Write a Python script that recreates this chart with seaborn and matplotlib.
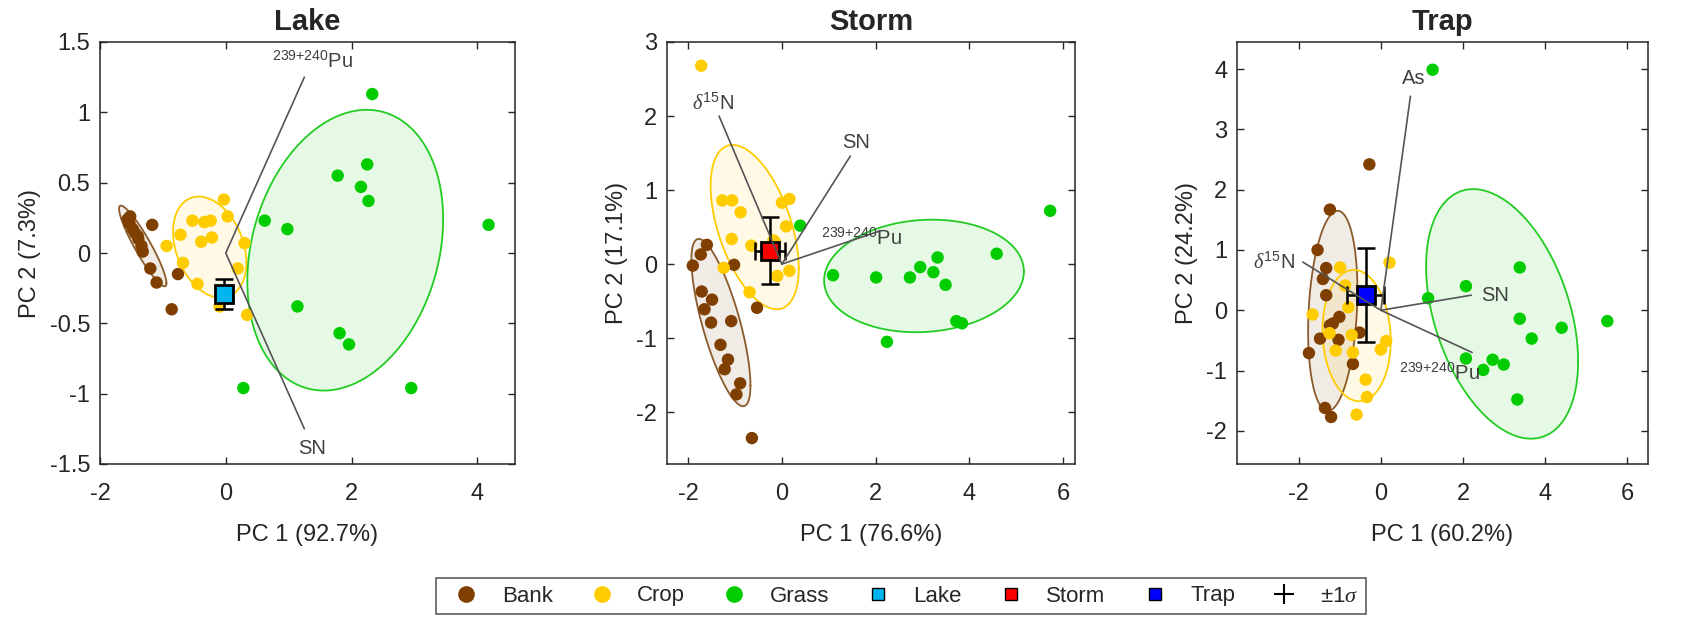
import numpy as np
import pandas as pd
import matplotlib
matplotlib.use("Agg")
import matplotlib.pyplot as plt
import seaborn as sns
from matplotlib.lines import Line2D

# === values ===
sites = ["Lake", "Storm", "Trap"]
groups = ["Bank", "Crop", "Grass"]
pc1_var = [92.7, 76.6, 60.2]
pc2_var = [7.3, 17.1, 24.2]

# Lake panel scores
lake_bank_x = [-1.56, -1.53, -1.52, -1.48, -1.44, -1.40, -1.39, -1.34, -1.32, -1.17, -1.20, -1.10, -0.76, -0.86]
lake_bank_y = [0.24, 0.21, 0.26, 0.17, 0.14, 0.12, 0.10, 0.05, 0.01, 0.20, -0.11, -0.21, -0.15, -0.40]
lake_crop_x = [-0.03, 0.03, -0.53, -0.34, -0.24, -0.72, -0.94, -0.39, -0.22, 0.30, -0.68, 0.19, -0.45, 0.34, -0.10]
lake_crop_y = [0.38, 0.26, 0.23, 0.22, 0.23, 0.13, 0.05, 0.08, 0.11, 0.07, -0.07, -0.11, -0.22, -0.44, -0.38]
lake_grass_x = [2.33, 2.25, 1.78, 2.15, 2.27, 0.62, 0.98, 4.18, 1.14, 1.81, 1.96, 0.28, 2.95]
lake_grass_y = [1.13, 0.63, 0.55, 0.47, 0.37, 0.23, 0.17, 0.20, -0.38, -0.57, -0.65, -0.96, -0.96]

# Storm panel scores
storm_bank_x = [-1.90, -1.73, -1.60, -1.02, -1.71, -1.49, -1.65, -1.51, -1.08, -0.53, -1.31, -1.15, -1.22, -0.89, -0.97, -0.64]
storm_bank_y = [-0.02, 0.13, 0.26, -0.01, -0.37, -0.48, -0.61, -0.79, -0.77, -0.59, -1.09, -1.29, -1.42, -1.61, -1.76, -2.35]
storm_crop_x = [-1.72, -1.27, -1.06, -0.88, 0.00, 0.16, 0.09, -1.07, -0.65, -0.18, -1.24, -0.10, 0.16, -0.69, -0.15]
storm_crop_y = [2.68, 0.86, 0.86, 0.70, 0.83, 0.88, 0.51, 0.34, 0.25, 0.32, -0.05, -0.16, -0.09, -0.38, 0.30]
storm_grass_x = [0.39, 5.72, 4.58, 1.09, 2.01, 2.73, 2.95, 3.23, 3.32, 3.49, 3.72, 3.84, 2.24]
storm_grass_y = [0.52, 0.72, 0.14, -0.15, -0.18, -0.18, -0.04, -0.11, 0.09, -0.28, -0.77, -0.80, -1.05]

# Trap panel scores
trap_bank_x = [-0.28, -1.24, -1.54, -1.33, -1.41, -1.33, -1.01, -1.24, -1.17, -1.48, -1.03, -0.52, -1.75, -0.68, -1.36, -1.21]
trap_bank_y = [2.42, 1.67, 1.00, 0.70, 0.52, 0.25, -0.11, -0.25, -0.22, -0.47, -0.49, -0.37, -0.71, -0.89, -1.62, -1.77]
trap_crop_x = [-0.99, 0.21, -1.66, -0.79, -0.87, -1.25, -0.71, -1.10, -0.68, 0.13, 0.00, -0.37, -0.34, -0.59]
trap_crop_y = [0.71, 0.79, -0.07, 0.05, 0.41, -0.38, -0.41, -0.67, -0.70, -0.51, -0.65, -1.15, -1.44, -1.73]
trap_grass_x = [1.26, 1.15, 2.07, 3.38, 3.38, 4.40, 5.51, 3.67, 2.07, 2.72, 2.99, 2.49, 3.32]
trap_grass_y = [3.99, 0.20, 0.40, 0.71, -0.14, -0.29, -0.18, -0.47, -0.80, -0.82, -0.90, -0.99, -1.48]

# projected sediment sample: mean PC1, mean PC2, sd PC1, sd PC2
site_mean_x = [-0.03, -0.25, -0.37]
site_mean_y = [-0.29, 0.18, 0.25]
site_sd_x = [0.05, 0.315, 0.445]
site_sd_y = [0.105, 0.455, 0.78]

# source ellipses: centre x, centre y, half-width, half-height, correlation
lake_ellipses = [(-1.32, 0.05, 0.377, 0.287, -0.92), (-0.255, 0.041, 0.584, 0.36, -0.30), (1.90, 0.02, 1.557, 0.998, 0.22)]
storm_ellipses = [(-1.30, -0.79, 0.63, 1.13, -0.75), (-0.58, 0.50, 0.94, 1.11, -0.50), (3.03, -0.16, 2.13, 0.76, 0.08)]
trap_ellipses = [(-1.17, -0.01, 0.60, 1.66, 0.20), (-0.59, -0.42, 0.83, 1.09, -0.08), (2.95, -0.06, 1.85, 2.07, -0.38)]

# loading vectors (tip coordinates)
lake_loadings = [("Pu", 1.25, 1.25), ("SN", 1.25, -1.25)]
storm_loadings = [("N15", -1.34, 2.0), ("SN", 1.46, 1.46), ("Pu", 2.10, 0.45)]
trap_loadings = [("As", 0.72, 3.55), ("N15", -1.90, 0.80), ("SN", 2.20, 0.25), ("Pu", 2.22, -0.70)]

# === styling ===
sns.set_style("ticks")
plt.rcParams['font.family'] = ['Liberation Sans', 'DejaVu Sans']
plt.rcParams['mathtext.fontset'] = 'custom'
plt.rcParams['mathtext.rm'] = 'Liberation Sans'
plt.rcParams['mathtext.it'] = 'Liberation Serif:italic'
plt.rcParams['axes.unicode_minus'] = False

colors = {"Bank": "#7F3F00", "Crop": "#FFCC00", "Grass": "#00CC00"}
edge_colors = {"Bank": "#8B5A2B", "Crop": "#FFCC00", "Grass": "#22CC22"}
site_colors = ["#00B4F0", "#FF0000", "#0000FF"]
text_col = "#262626"
load_col = "#555555"

load_names = {"Pu": r"$^{239{+}240}$Pu", "SN": "SN", "N15": r"$\delta^{15}$N", "As": "As"}
# label offsets in pixels per panel and label: (dx, dy, ha, va)
label_pos = [
    {"Pu": (8, 5, "center", "bottom"), "SN": (8, -10, "center", "top")},
    {"N15": (-6, 2, "center", "bottom"), "SN": (6, 4, "center", "bottom"), "Pu": (-19, -7, "center", "center")},
    {"As": (3, 8, "center", "bottom"), "N15": (-8, 0, "right", "center"),
     "SN": (10, 0, "left", "center"), "Pu": (8, -10, "right", "top")},
]

panel_pts = [
    [(lake_bank_x, lake_bank_y), (lake_crop_x, lake_crop_y), (lake_grass_x, lake_grass_y)],
    [(storm_bank_x, storm_bank_y), (storm_crop_x, storm_crop_y), (storm_grass_x, storm_grass_y)],
    [(trap_bank_x, trap_bank_y), (trap_crop_x, trap_crop_y), (trap_grass_x, trap_grass_y)],
]
panel_ell = [lake_ellipses, storm_ellipses, trap_ellipses]
panel_load = [lake_loadings, storm_loadings, trap_loadings]

xlims = [(-2, 4.6), (-2.45, 6.25), (-3.5, 6.5)]
ylims = [(-1.5, 1.5), (-2.7, 3), (-2.55, 4.45)]
xticks = [[-2, 0, 2, 4], [-2, 0, 2, 4, 6], [-2, 0, 2, 4, 6]]
yticks = [np.arange(-1.5, 1.51, 0.5), np.arange(-2, 3.1, 1), np.arange(-2, 4.1, 1)]
ytick_labels = [["-1.5", "-1", "-0.5", "0", "0.5", "1", "1.5"],
                ["-2", "-1", "0", "1", "2", "3"],
                ["-2", "-1", "0", "1", "2", "3", "4"]]

W, H = 1707, 618
fig = plt.figure(figsize=(W / 100, H / 100), dpi=100)
axes_px = [(100, 515), (667, 1075), (1237, 1648)]
top_px, bot_px = 42, 464

t = np.linspace(0, 2 * np.pi, 300)

for i, site in enumerate(sites):
    l, r = axes_px[i]
    ax = fig.add_axes([l / W, 1 - bot_px / H, (r - l) / W, (bot_px - top_px) / H])

    # confidence ellipses
    for g, (cx, cy, rx, ry, rho) in zip(groups, panel_ell[i]):
        ex = cx + rx * np.cos(t)
        ey = cy + ry * (rho * np.cos(t) + np.sqrt(1 - rho ** 2) * np.sin(t))
        ax.fill(ex, ey, facecolor=colors[g], alpha=0.1, edgecolor="none", zorder=1)
        ax.plot(ex, ey, color=edge_colors[g], lw=1.3, zorder=1.5)

    rows = []
    for g, (xs, ys) in zip(groups, panel_pts[i]):
        rows += [{"PC1": a, "PC2": b, "Source": g} for a, b in zip(xs, ys)]
    df = pd.DataFrame(rows)
    sns.scatterplot(data=df, x="PC1", y="PC2", hue="Source", palette=colors,
                    s=80, linewidth=0, legend=False, ax=ax, zorder=2)

    # sediment sample with +-1 sigma
    ax.errorbar(site_mean_x[i], site_mean_y[i], xerr=site_sd_x[i], yerr=site_sd_y[i],
                fmt="none", ecolor="black", elinewidth=1.8, capsize=6.5, capthick=1.8, zorder=3)
    ax.plot(site_mean_x[i], site_mean_y[i], marker="s", ms=13, mfc=site_colors[i],
            mec="black", mew=2, zorder=4)

    # loading vectors
    for name, lx, ly in panel_load[i]:
        ax.plot([0, lx], [0, ly], color=load_col, lw=1.2, zorder=5)
        dx, dy, ha, va = label_pos[i][name]
        ax.annotate(load_names[name], (lx, ly), xytext=(dx, dy), textcoords="offset pixels",
                    ha=ha, va=va, fontsize=14.5, color="#404040", zorder=6)

    ax.set_xlim(*xlims[i])
    ax.set_ylim(*ylims[i])
    ax.set_xticks(xticks[i])
    ax.set_xticklabels([str(v) for v in xticks[i]])
    ax.set_yticks(yticks[i])
    ax.set_yticklabels(ytick_labels[i])
    ax.tick_params(direction="in", top=True, right=True, length=5, width=1,
                   labelsize=17, colors=text_col)
    ax.tick_params(axis="x", pad=14)
    ax.tick_params(axis="y", pad=7)
    for sp in ax.spines.values():
        sp.set_color(text_col)
        sp.set_linewidth(1.1)
    ax.set_xlabel(f"PC 1 ({pc1_var[i]}%)", fontsize=17, color=text_col, labelpad=13)
    ax.set_ylabel(f"PC 2 ({pc2_var[i]}%)", fontsize=17, color=text_col, labelpad=6)
    ax.set_title(site, fontsize=21, fontweight="bold", pad=9)

# shared legend
handles = [Line2D([], [], ls="none", marker="o", ms=12, mfc=colors[g], mec="none") for g in groups]
handles += [Line2D([], [], ls="none", marker="s", ms=9, mfc=c, mec="black", mew=1) for c in site_colors]
handles += [Line2D([], [], ls="none", marker="+", ms=14, mew=1.5, color="black")]
labels = groups + sites + [r"$\pm1\sigma$"]
leg = fig.legend(handles, labels, loc="center", bbox_to_anchor=(901 / W, 1 - 596 / H), ncol=7,
                 fontsize=16, frameon=True, fancybox=False, edgecolor=text_col,
                 handletextpad=0.6, columnspacing=1.2, borderpad=0.35)
leg.get_frame().set_linewidth(1.1)

plt.savefig("out.png", dpi=100)
plt.close()
